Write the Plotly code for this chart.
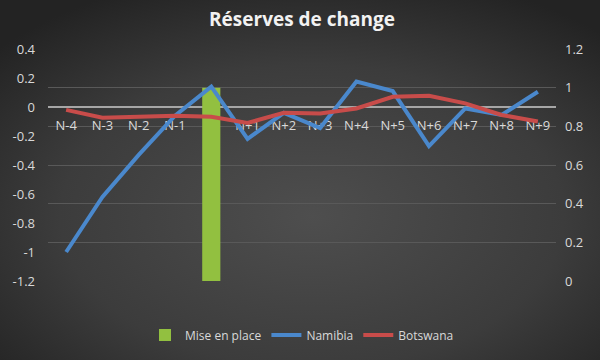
import base64
import plotly.graph_objects as go

categories = ["N-4", "N-3", "N-2", "N-1", "N", "N+1", "N+2", "N+3", "N+4", "N+5", "N+6", "N+7", "N+8", "N+9"]
mise_en_place = [None, None, None, None, 1.0, None, None, None, None, None, None, None, None, None]
namibia = [-1.0, -0.62, -0.33, -0.06, 0.14, -0.22, -0.04, -0.145, 0.175, 0.11, -0.27, -0.01, -0.055, 0.105]
botswana = [-0.02, -0.074, -0.067, -0.06, -0.067, -0.11, -0.04, -0.045, -0.01, 0.07, 0.078, 0.025, -0.055, -0.10]
left_ticks = [0.4, 0.2, 0, -0.2, -0.4, -0.6, -0.8, -1, -1.2]
right_ticks = [1.2, 1, 0.8, 0.6, 0.4, 0.2, 0]

W, H = 600, 360
ML, MR, MT, MB = 48, 44, 49, 79
PW, PH = W - ML - MR, H - MT - MB

svg = f'''<svg xmlns="http://www.w3.org/2000/svg" width="{W}" height="{H}">
<defs><radialGradient id="g" cx="52%" cy="60%" r="70%">
<stop offset="0%" stop-color="#4e4e4e"/><stop offset="60%" stop-color="#3c3c3c"/><stop offset="100%" stop-color="#232323"/>
</radialGradient></defs><rect width="{W}" height="{H}" fill="url(#g)"/></svg>'''
bg_uri = "data:image/svg+xml;base64," + base64.b64encode(svg.encode()).decode()

FONT = "Open Sans"
fig = go.Figure()
fig.add_trace(go.Bar(x=categories, y=mise_en_place, name="Mise en place", yaxis="y",
                     marker=dict(color="#92c040", line=dict(width=0)), width=0.5))
fig.add_trace(go.Scatter(x=categories, y=namibia, name="Namibia", yaxis="y2", mode="lines",
                         line=dict(color="#4a88cc", width=4)))
fig.add_trace(go.Scatter(x=categories, y=botswana, name="Botswana", yaxis="y2", mode="lines",
                         line=dict(color="#c84c4a", width=4)))

zero_pos = (0 - (-1.2)) / (0.4 - (-1.2))

fig.update_layout(
    width=W, height=H,
    margin=dict(l=ML, r=MR, t=MT, b=MB, autoexpand=False),
    paper_bgcolor="#333333", plot_bgcolor="rgba(0,0,0,0)",
    images=[dict(source=bg_uri, xref="paper", yref="paper", x=-ML / PW, y=1 + MT / PH,
                 sizex=W / PW, sizey=H / PH, sizing="stretch", xanchor="left", yanchor="top",
                 layer="below")],
    title=dict(text="<b>Réserves de change</b>", x=0.5, xref="paper", xanchor="center",
               y=1 - 19 / H, yref="container", yanchor="middle",
               font=dict(family=FONT, size=19, color="#f2f2f2")),
    font=dict(family=FONT, size=12, color="#d9d9d9"),
    showlegend=True,
    legend=dict(orientation="h", x=0.5, xref="paper", xanchor="center", y=-(335 - 281) / PH,
                yanchor="middle", font=dict(family=FONT, size=12, color="#d9d9d9"),
                itemwidth=30, bgcolor="rgba(0,0,0,0)", traceorder="normal"),
    bargap=0.5,
    xaxis=dict(type="category", categoryorder="array", categoryarray=categories,
               anchor="free", position=zero_pos, layer="below traces",
               showline=True, linecolor="#a6a6a6", linewidth=2, showgrid=False, zeroline=False,
               ticks="", ticklabelstandoff=6, tickfont=dict(family=FONT, size=13, color="#d9d9d9"),
               range=[-0.5, len(categories) - 0.5], automargin=False),
    yaxis=dict(side="right", range=[0, 1.2], tickvals=right_ticks,
               ticktext=[f"{v:g}" for v in right_ticks],
               showgrid=True, gridcolor="#595959", gridwidth=1, zeroline=False,
               showline=False, ticks="", ticklabelstandoff=8, automargin=False,
               tickfont=dict(family=FONT, size=13, color="#d9d9d9")),
    yaxis2=dict(side="left", overlaying="y", range=[-1.2, 0.4], tickvals=left_ticks,
                ticktext=[f"{v:g}" for v in left_ticks], automargin=False,
                showgrid=False, zeroline=False, showline=False, ticks="", ticklabelstandoff=12,
                tickfont=dict(family=FONT, size=13, color="#d9d9d9")),
)

fig.write_html("out.html", config={"displayModeBar": False},
               post_script="document.body.style.margin='0';document.body.style.overflow='hidden';")
